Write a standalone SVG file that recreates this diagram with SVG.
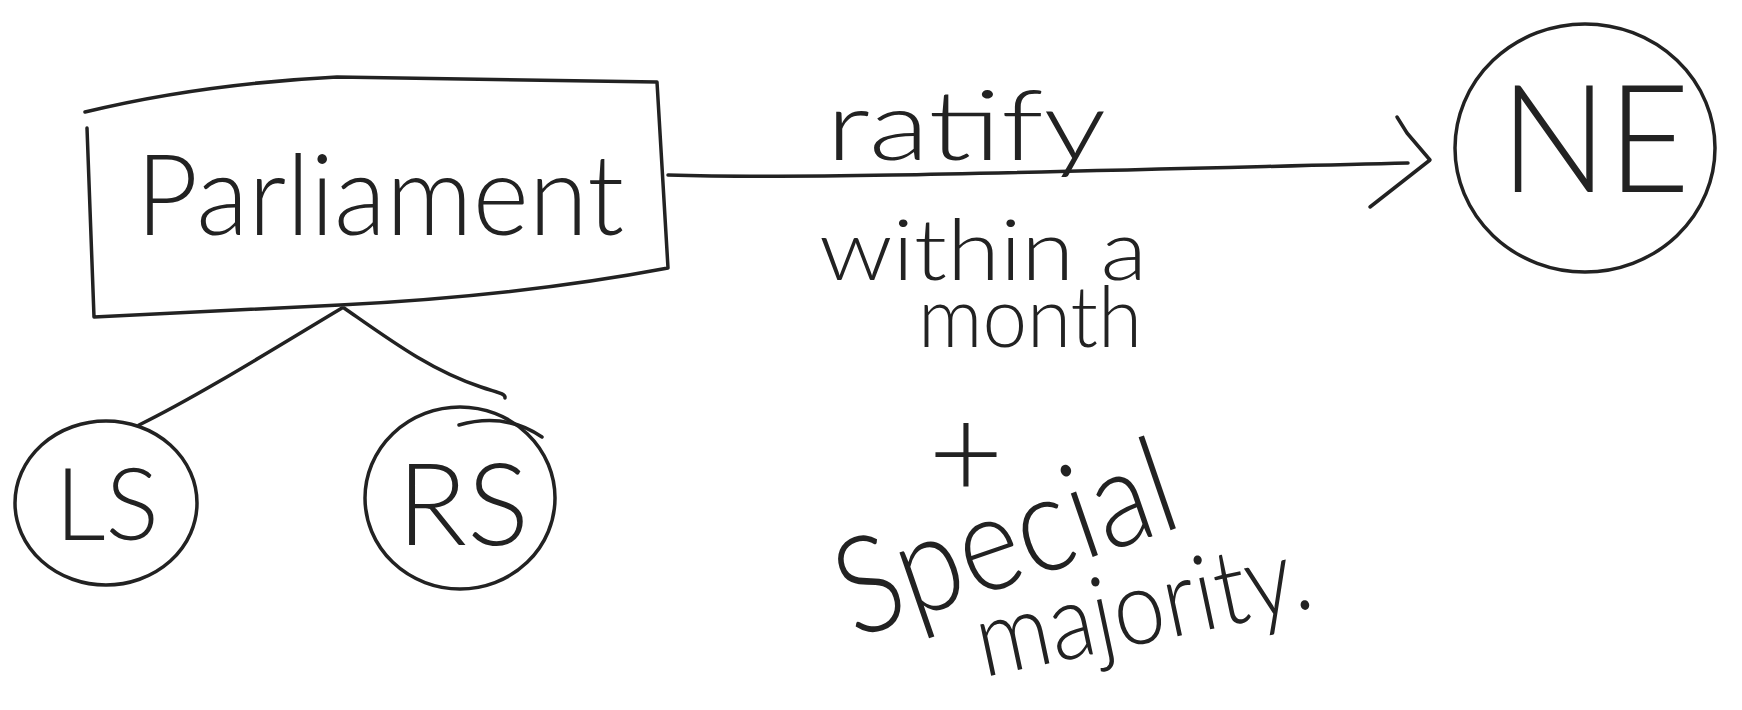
<svg xmlns="http://www.w3.org/2000/svg" width="1742" height="710" viewBox="0 0 1742 710">
<style>
.ink{fill:none;stroke:#222;stroke-width:3.5;stroke-linecap:round;stroke-linejoin:round}
.hw{font-family:Lato,"Open Sans","Liberation Sans",sans-serif;font-weight:300;fill:#222;text-anchor:middle}
</style>
<rect width="1742" height="710" fill="#ffffff"/>
<g id="connectors">
<path class="ink" d="M342,308 C 280,345 200,395 139,425"/>
<path class="ink" d="M344,308 C 390,340 430,370 481,387 C 495,392 506,393 505,398"/>
<path class="ink" d="M668,175 C 800,179 1000,173 1408,163"/>
<path class="ink" d="M1397,117 L1407,133 L1430,160 L1370,207"/>
</g>
<g id="parliament">
<path class="ink" d="M85,112 Q200,84 337,77 Q500,80 657,82 L668,268 Q520,296 340,305 Q200,312 94,317 L87,128"/>
<text class="hw" x="380" y="235" font-size="112" textLength="488" lengthAdjust="spacingAndGlyphs">Parliament</text>
</g>
<g id="ne">
<ellipse class="ink" cx="1585" cy="148" rx="130" ry="124"/>
<text class="hw" x="1595" y="192" font-size="150" textLength="190" lengthAdjust="spacingAndGlyphs">NE</text>
</g>
<g id="ls">
<ellipse class="ink" cx="106" cy="503" rx="91" ry="82"/>
<text class="hw" x="107" y="540" font-size="100" textLength="104" lengthAdjust="spacingAndGlyphs">LS</text>
</g>
<g id="rs">
<ellipse class="ink" cx="460" cy="498" rx="95" ry="91"/>
<path class="ink" d="M459,425 Q505,412 542,437"/>
<text class="hw" x="463" y="545" font-size="115" textLength="132" lengthAdjust="spacingAndGlyphs">RS</text>
</g>
<g id="labels">
<text class="hw" x="966" y="160" font-size="96" textLength="280" lengthAdjust="spacingAndGlyphs">ratify</text>
<text class="hw" font-size="84"><tspan x="983" y="280" textLength="328" lengthAdjust="spacingAndGlyphs">within a</tspan><tspan x="1030" y="347" textLength="224" lengthAdjust="spacingAndGlyphs">month</tspan></text>
<text class="hw" x="966" y="498" font-size="130">+</text>
<text class="hw" x="0" y="0" font-size="135" textLength="350" lengthAdjust="spacingAndGlyphs" transform="translate(1020,582) rotate(-19)">Special</text>
<text class="hw" x="0" y="0" font-size="105" textLength="340" lengthAdjust="spacingAndGlyphs" transform="translate(1150,642) rotate(-12)">majority.</text>
</g>
</svg>
